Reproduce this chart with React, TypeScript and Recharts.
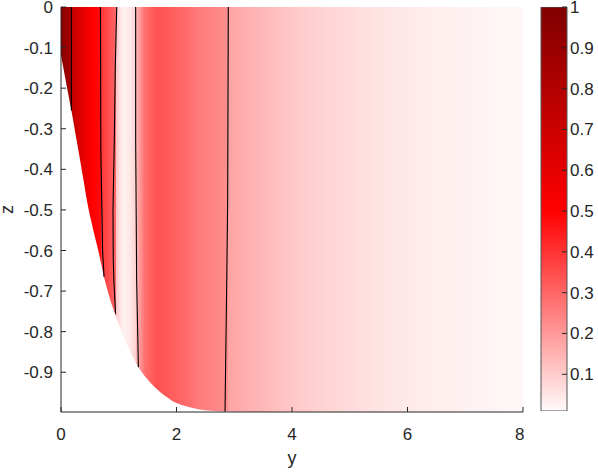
import {
  ComposedChart,
  BarChart,
  Area,
  Bar,
  Scatter,
  XAxis,
  YAxis,
  Label,
} from 'recharts';

const FONT = '"Liberation Sans", Arial, sans-serif';
const INK = '#262626';

// lower edge of the domain, z(y)
const boundaryY = [0, 0.1, 0.18, 0.27, 0.37, 0.47, 0.56, 0.65, 0.76, 0.85, 0.935, 1.05, 1.166, 1.34, 1.5, 1.63, 1.8, 1.92, 2.15, 2.38, 2.6, 2.84, 3.3, 4, 5, 6, 7, 8];
const boundaryZ = [-0.118, -0.195, -0.255, -0.328, -0.41, -0.493, -0.55, -0.603, -0.674, -0.72, -0.756, -0.8, -0.839, -0.888, -0.918, -0.9375, -0.958, -0.97, -0.983, -0.991, -0.995, -0.997, -0.998, -0.998, -0.998, -0.998, -0.998, -0.998];

// field value along y (jumps at the contour lines)
const fieldY = [0, 0.09, 0.18, 0.18, 0.35, 0.55, 0.685, 0.685, 0.82, 0.95, 0.95, 1.03, 1.1, 1.2, 1.293, 1.293, 1.45, 1.65, 1.8, 2.1, 2.4, 2.89, 2.89, 3.5, 4, 4.66, 5.5, 6.4, 7.5, 8];
const fieldV = [0.98, 0.9, 0.84, 0.75, 0.62, 0.5, 0.48, 0.4, 0.35, 0.3, 0.12, 0.05, 0.025, 0.05, 0.09, 0.13, 0.28, 0.34, 0.33, 0.3, 0.26, 0.22, 0.18, 0.14, 0.11, 0.08, 0.055, 0.035, 0.02, 0.015];

// contour lines
const contourY = [
  [0.18, 0.18],
  [0.683, 0.69, 0.72, 0.745],
  [0.965, 0.94, 0.923, 0.9, 0.905, 0.915, 0.945],
  [1.293, 1.293, 1.31, 1.34],
  [2.897, 2.886, 2.87, 2.84],
];
const contourZ = [
  [0, -0.255],
  [0, -0.35, -0.6, -0.665],
  [0, -0.15, -0.33, -0.5, -0.62, -0.674, -0.756],
  [0, -0.33, -0.674, -0.888],
  [0, -0.48, -0.674, -0.997],
];

const xTicks = [0, 2, 4, 6, 8];
const zTicks = [-0.9, -0.8, -0.7, -0.6, -0.5, -0.4, -0.3, -0.2, -0.1, 0];
const cbarTicks = [0.1, 0.2, 0.3, 0.4, 0.5, 0.6, 0.7, 0.8, 0.9, 1];
const Z_MIN = -0.998;
const C_MIN = 0.01;

function cmap(v: number): string {
  let r = 255, g = 255, b = 255;
  if (v <= 0.5) {
    const t = Math.max(0, v) / 0.5;
    g = b = Math.round(255 * (1 - t));
  } else {
    const t = Math.min(1, (v - 0.5) / 0.5);
    r = Math.round(255 * (1 - 0.5 * t));
    g = b = 0;
  }
  return `rgb(${r},${g},${b})`;
}

const areaData = boundaryY.map((y, i) => ({ y, band: [boundaryZ[i], 0] }));
const contours = contourY.map((ys, k) => ys.map((y, i) => ({ y, z: contourZ[k][i] })));
const cbarData = [{ name: 'c', range: [C_MIN, 1] }];

const tickStyle = { fill: INK, fontSize: 17, fontFamily: FONT };

export default function App() {
  return (
    <div style={{ position: 'absolute', left: 0, top: 0, display: 'flex', background: '#fff' }}>
      <ComposedChart width={524} height={473} data={areaData} margin={{ top: 7, right: 1, bottom: 0, left: 0 }}>
        <defs>
          <linearGradient id="field" x1="0" y1="0" x2="1" y2="0">
            {fieldY.map((y, i) => (
              <stop key={i} offset={y / 8} stopColor={cmap(fieldV[i])} />
            ))}
          </linearGradient>
        </defs>
        <Area
          dataKey="band"
          type="monotone"
          stroke="none"
          fill="url(#field)"
          fillOpacity={1}
          isAnimationActive={false}
        />
        {contours.map((pts, k) => (
          <Scatter
            key={k}
            data={pts}
            dataKey="z"
            line={{ stroke: '#000', strokeWidth: 1.1 }}
            shape={() => <g />}
            isAnimationActive={false}
          />
        ))}
        <XAxis
          type="number"
          dataKey="y"
          domain={[0, 8]}
          ticks={xTicks}
          allowDataOverflow
          height={61}
          stroke={INK}
          tick={tickStyle}
          tickSize={-5}
          tickMargin={21}
        >
          <Label value="y" position="insideBottom" offset={9} style={{ fill: INK, fontSize: 18, fontFamily: FONT }} />
        </XAxis>
        <YAxis
          type="number"
          dataKey="z"
          domain={[Z_MIN, 0]}
          ticks={zTicks}
          allowDataOverflow
          width={61}
          stroke={INK}
          tick={tickStyle}
          tickSize={-5}
          tickMargin={13}
          interval={0}
          tickFormatter={(v: number) => (v === 0 ? '0' : String(v))}
        >
          <Label
            content={({ viewBox }: any) => {
              const cy = viewBox.y + viewBox.height / 2;
              return (
                <text x={13} y={cy} transform={`rotate(-90, 13, ${cy})`} textAnchor="middle" fill={INK} fontSize={18} fontFamily={FONT}>
                  z
                </text>
              );
            }}
          />
        </YAxis>
        <XAxis xAxisId="top" orientation="top" type="number" domain={[0, 8]} height={0} tick={false} tickLine={false} stroke={INK} />
        <YAxis yAxisId="right" orientation="right" type="number" domain={[Z_MIN, 0]} width={0} tick={false} tickLine={false} stroke={INK} />
      </ComposedChart>
      <BarChart width={74} height={473} data={cbarData} margin={{ top: 7, right: 0, bottom: 62, left: 17 }} barCategoryGap={0}>
        <defs>
          <linearGradient id="cbar" x1="0" y1="0" x2="0" y2="1">
            <stop offset={0} stopColor={cmap(1)} />
            <stop offset={(1 - 0.5) / (1 - C_MIN)} stopColor={cmap(0.5)} />
            <stop offset={1} stopColor={cmap(C_MIN)} />
          </linearGradient>
        </defs>
        <XAxis dataKey="name" hide />
        <YAxis
          orientation="right"
          type="number"
          domain={[C_MIN, 1]}
          ticks={cbarTicks}
          allowDataOverflow
          interval={0}
          width={31}
          axisLine={false}
          stroke={INK}
          tick={tickStyle}
          tickSize={-5}
          tickMargin={8}
        />
        <Bar dataKey="range" fill="url(#cbar)" stroke="#555" strokeWidth={1} isAnimationActive={false} />
      </BarChart>
    </div>
  );
}
